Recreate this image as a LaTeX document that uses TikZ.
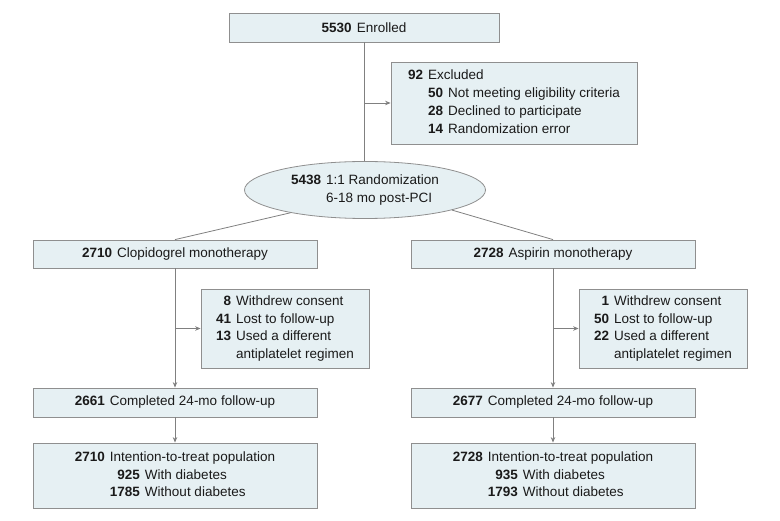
\documentclass[tikz,border=0pt]{standalone}
\usepackage{fontspec}
\setmainfont{Liberation Sans}
\usetikzlibrary{shapes.geometric,arrows.meta}
\definecolor{boxfill}{HTML}{E6F0F3}
\definecolor{boxline}{HTML}{8F8F8F}
\definecolor{conn}{HTML}{808080}
\definecolor{txt}{HTML}{1A1A1A}
\newcommand{\nm}[1]{\textbf{#1}}
\newcommand{\gp}{\hspace{5pt}}
\tikzset{
  box/.style={draw=boxline, fill=boxfill, line width=0.8pt, inner sep=0pt, text=txt, align=center,
    font=\fontsize{13.5}{17.7}\selectfont},
  wide/.style={box, minimum width=284pt},
  oval/.style={box, ellipse, minimum width=241pt, minimum height=57pt},
  conline/.style={draw=conn, line width=0.8pt},
  arr/.style={conline, -{Stealth[length=5.5pt,width=4.5pt]}}
}
\begin{document}
\begin{tikzpicture}[x=1pt,y=-1pt]
\useasboundingbox (0,0) rectangle (780,521);
% top
\node[box, minimum width=270pt, minimum height=29pt] (enr) at (364,27.5) {\nm{5530}\gp Enrolled};
\node[box, minimum width=246pt, minimum height=82pt] (exc) at (514,103)
  {\begin{tabular}{@{}r@{\gp}r@{\gp}l@{}}
   \nm{92} & \multicolumn{2}{@{}l@{}}{Excluded}\\
   & \nm{50} & Not meeting eligibility criteria\\
   & \nm{28} & Declined to participate\\
   & \nm{14} & Randomization error
   \end{tabular}};
\node[oval] (rand) at (365,190)
  {\begin{tabular}{@{}r@{\gp}l@{}}
   \nm{5438} & 1:1 Randomization\\
   & 6-18 mo post-PCI
   \end{tabular}};
% arms
\node[wide, minimum height=28pt] (clop) at (175,254) {\nm{2710}\gp Clopidogrel monotherapy};
\node[wide, minimum height=28pt] (asp) at (553,254) {\nm{2728}\gp Aspirin monotherapy};
\node[box, minimum width=168pt, minimum height=79pt] (lside) at (285,328.5)
  {\begin{tabular}{@{}r@{\gp}l@{}}
   \nm{8} & Withdrew consent\\
   \nm{41} & Lost to follow-up\\
   \nm{13} & Used a different\\
   & antiplatelet regimen
   \end{tabular}};
\node[box, minimum width=168pt, minimum height=79pt] (rside) at (663,328.5)
  {\begin{tabular}{@{}r@{\gp}l@{}}
   \nm{1} & Withdrew consent\\
   \nm{50} & Lost to follow-up\\
   \nm{22} & Used a different\\
   & antiplatelet regimen
   \end{tabular}};
\node[wide, minimum height=29pt] (lcomp) at (175,402.5) {\nm{2661}\gp Completed 24-mo follow-up};
\node[wide, minimum height=29pt] (rcomp) at (553,402.5) {\nm{2677}\gp Completed 24-mo follow-up};
\node[wide, minimum height=65pt] (litt) at (175,475.5)
  {\begin{tabular}{@{}r@{\gp}r@{\gp}l@{}}
   \nm{2710} & \multicolumn{2}{@{}l@{}}{Intention-to-treat population}\\
   & \nm{925} & With diabetes\\
   & \nm{1785} & Without diabetes
   \end{tabular}};
\node[wide, minimum height=65pt] (ritt) at (553,475.5)
  {\begin{tabular}{@{}r@{\gp}r@{\gp}l@{}}
   \nm{2728} & \multicolumn{2}{@{}l@{}}{Intention-to-treat population}\\
   & \nm{935} & With diabetes\\
   & \nm{1793} & Without diabetes
   \end{tabular}};
% connectors
\draw[conline] (enr.south) -- (enr.south |- rand.north);
\draw[arr] (enr.south |- exc.west) -- (exc.west);
\draw[conline] (rand.197) -- (clop.north);
\draw[conline] (rand.347) -- (asp.north);
\draw[arr] (clop.south) -- (lcomp.north);
\draw[arr] (clop.south |- lside.west) -- (lside.west);
\draw[arr] (lcomp.south) -- (litt.north);
\draw[arr] (asp.south) -- (rcomp.north);
\draw[arr] (asp.south |- rside.west) -- (rside.west);
\draw[arr] (rcomp.south) -- (ritt.north);
\end{tikzpicture}
\end{document}
